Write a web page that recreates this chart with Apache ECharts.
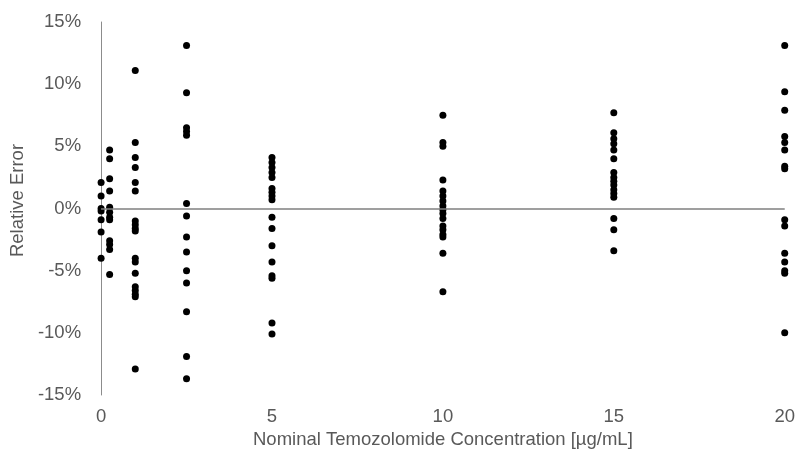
<!DOCTYPE html>
<html>
<head>
<meta charset="utf-8">
<script src="https://cdn.jsdelivr.net/npm/echarts@6/dist/echarts.min.js"></script>
<style>
  html, body { margin: 0; padding: 0; background: #fff; }
  #chart { width: 798px; height: 468px; }
</style>
</head>
<body>
<div id="chart"></div>
<script>
// nominal concentrations (µg/mL) and relative error (%) read at each one
const concentrations = [0, 0.25, 1, 2.5, 5, 10, 15, 20]
const errAt0 = [2.1, 1.0, 0.0, -0.2, -0.9, -1.9, -4.0]
const errAt025 = [4.7, 4.0, 2.4, 1.4, 0.1, -0.3, -0.7, -0.9, -2.6, -2.9, -3.3, -5.3]
const errAt1 = [11.1, 5.3, 4.1, 3.3, 2.1, 1.4, -1.0, -1.3, -1.6, -1.8, -4.0, -4.3, -5.2, -6.3, -6.6, -6.9, -7.1, -12.9]
const errAt2_5 = [13.1, 9.3, 6.5, 6.2, 5.9, 0.4, -0.6, -2.3, -3.5, -5.0, -6.0, -8.3, -11.9, -13.7]
const errAt5 = [4.1, 3.7, 3.3, 2.9, 2.5, 1.6, 1.3, 1.0, 0.7, -0.7, -1.6, -3.0, -4.3, -5.4, -5.6, -9.2, -10.1]
const errAt10 = [7.5, 5.3, 5.0, 2.3, 1.4, 1.0, 0.6, 0.2, -0.1, -0.4, -0.8, -1.4, -1.7, -2.1, -2.3, -3.6, -6.7]
const errAt15 = [7.7, 6.1, 5.6, 5.2, 4.7, 4.0, 2.9, 2.5, 2.2, 1.9, 1.5, 1.2, 0.9, -0.8, -1.7, -3.4]
const errAt20 = [13.1, 9.4, 7.9, 5.8, 5.3, 4.7, 3.4, 3.2, -0.9, -1.4, -3.6, -4.3, -5.0, -5.2, -10.0]

const errors = [errAt0, errAt025, errAt1, errAt2_5, errAt5, errAt10, errAt15, errAt20]
const points = []
concentrations.forEach((c, i) => {
  errors[i].forEach(e => points.push([c, e]))
})

const font = '"Liberation Sans", Arial, sans-serif'
const labelColor = '#595959'
const fontSize = 18.5

const chart = echarts.init(document.getElementById('chart'))
chart.setOption({
  animation: false,
  grid: { left: 100, right: 13, top: 22, bottom: 73 },
  xAxis: {
    type: 'value',
    min: 0,
    max: 20,
    interval: 5,
    name: 'Nominal Temozolomide Concentration [µg/mL]',
    nameLocation: 'middle',
    nameGap: 31,
    nameTextStyle: { fontFamily: font, fontSize: fontSize, color: labelColor },
    axisLine: { show: false, onZero: false },
    axisTick: { show: false },
    splitLine: { show: false },
    axisLabel: { fontFamily: font, fontSize: fontSize, color: labelColor, margin: 12 },
  },
  yAxis: {
    type: 'value',
    min: -15,
    max: 15,
    interval: 5,
    name: 'Relative Error',
    nameLocation: 'middle',
    nameGap: 67,
    nameTextStyle: {
      fontFamily: font,
      fontSize: fontSize,
      color: labelColor,
      padding: [0, 0, 0, 16], // nudge it a little upward like the original
    },
    axisLine: { show: true, lineStyle: { color: '#8c8c8c', width: 1 } },
    axisTick: { show: false },
    splitLine: { show: false },
    axisLabel: {
      fontFamily: font,
      fontSize: fontSize,
      color: labelColor,
      margin: 20,
      formatter: '{value}%',
    },
  },
  series: [
    {
      type: 'scatter',
      data: points,
      symbol: 'circle',
      symbolSize: 7,
      itemStyle: { color: '#000', opacity: 1 },
      markLine: {
        silent: true,
        symbol: 'none',
        label: { show: false },
        lineStyle: { color: '#7f7f7f', width: 1.5, type: 'solid' },
        data: [{ yAxis: 0 }],
      },
      z: 3,
    },
  ],
})
</script>
</body>
</html>
